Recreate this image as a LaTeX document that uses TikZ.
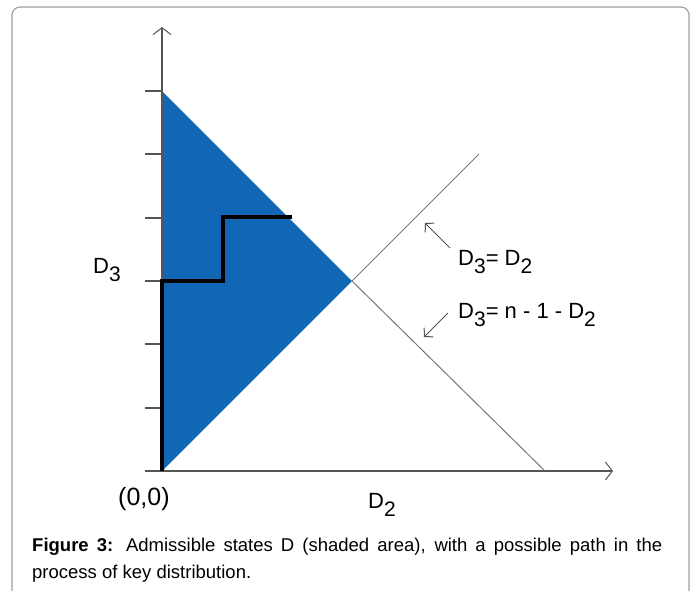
\documentclass[tikz,border=0pt]{standalone}
\usepackage{fontspec}
\setmainfont{Liberation Sans}
\usetikzlibrary{arrows.meta}
\definecolor{frameGray}{RGB}{160,160,160}
\definecolor{axisGray}{RGB}{85,85,85}
\definecolor{lineGray}{RGB}{120,120,120}
\definecolor{regionBlue}{RGB}{18,102,182}
\newcommand{\lowsub}[1]{\raisebox{-8pt}{\fontsize{21}{21}\selectfont #1}}
\tikzset{
  axisline/.style={draw=axisGray, line width=1.3pt, -{Straight Barb[length=7pt,width=18pt,line width=1pt]}},
  tickline/.style={draw=axisGray, line width=1.3pt},
  boundline/.style={draw=lineGray, line width=1pt},
  pointer/.style={draw=axisGray, line width=1pt, -{Straight Barb[length=6pt,width=13pt,line width=1pt]}},
  pathline/.style={draw=black, line width=4pt, miter limit=10},
  lbl/.style={inner sep=0pt, anchor=base west, font=\fontsize{22}{22}\selectfont},
  captext/.style={inner sep=0pt, anchor=base west, font=\fontsize{18.5}{28}\selectfont},
}
\begin{document}
\begin{tikzpicture}[x=1pt,y=-1pt]
\useasboundingbox (0,0) rectangle (697,590);
% frame (open at the bottom)
\draw[frameGray, line width=1.2pt, rounded corners=8pt] (12,592) -- (12,7) -- (689,7) -- (689,592);
% key points
\coordinate (O) at (162,471);
\coordinate (Ytop) at (162,27);
\coordinate (Xleft) at (145,471);
\coordinate (Xright) at (613,471);
\coordinate (A) at (162,91);
\coordinate (V) at (352,281);
\coordinate (Dend) at (479,154);
\coordinate (Aend) at (545,471);
% shaded region
\fill[regionBlue] (O) -- (A) -- (V) -- cycle;
% boundary lines outside the region
\draw[boundline] (V) -- (Dend);
\draw[boundline] (V) -- (Aend);
% ticks
\foreach \y [count=\i] in {91,154,218,281,344,408}{
  \coordinate (t\i) at (145,\y);
  \coordinate (s\i) at (162,\y);
  \draw[tickline] (t\i) -- (s\i);
}
% axes
\draw[axisline] (Xleft) -- (Xright);
\draw[axisline] (O) -- (Ytop);
% path
\coordinate (P1) at (162,281);
\coordinate (P2) at (223,281);
\coordinate (P3) at (223,217);
\coordinate (P4) at (292,217);
\draw[pathline] (O) -- (P1) -- (P2) -- (P3) -- (P4);
% annotation pointers
\coordinate (q1) at (450,248);
\coordinate (h1) at (425,223);
\coordinate (q2) at (448,313);
\coordinate (h2) at (424,337);
\draw[pointer] (q1) -- (h1);
\draw[pointer] (q2) -- (h2);
% labels
\node[lbl] (ld3) at (93,273) {D\lowsub{3}};
\node[lbl, font=\fontsize{25}{25}\selectfont] (lorig) at (118,505) {(0,0)};
\node[lbl] (ld2) at (368,508) {D\lowsub{2}};
\node[lbl] (leq1) at (458,265) {D\lowsub{3}= D\lowsub{2}};
\node[lbl] (leq2) at (458,318) {D\lowsub{3}= n - 1 - D\lowsub{2}};
% caption
\node[captext] (cap1) at (32,551)
  {\makebox[630pt][s]{\textbf{Figure 3:} Admissible states D (shaded area), with a possible path in the}};
\node[captext] (cap2) at (32,578)
  {process of key distribution.};
\end{tikzpicture}
\end{document}
